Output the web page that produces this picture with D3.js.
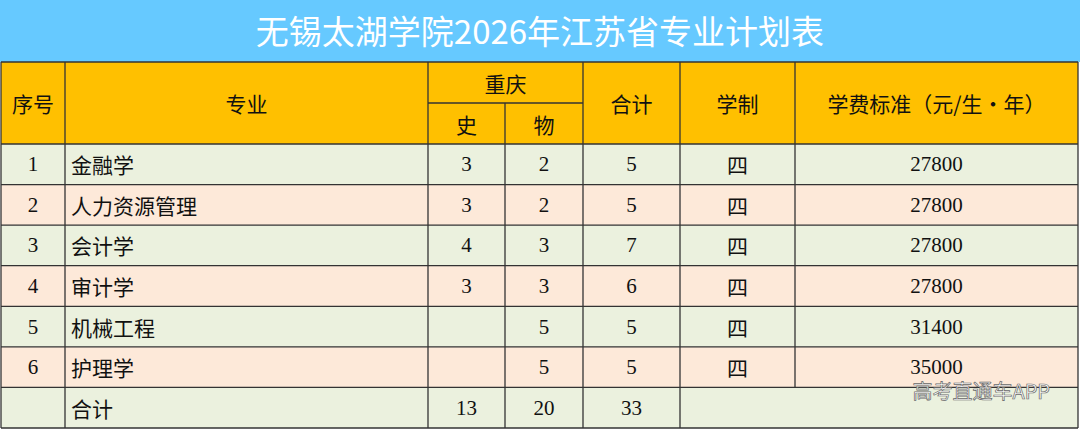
<!DOCTYPE html><html><head><meta charset="utf-8"><script src="https://cdn.jsdelivr.net/npm/d3@7"></script>
<style>body{margin:0;background:#fff}</style></head><body><svg id="c" width="1080" height="430"></svg>
<script>
const title = "无锡太湖学院2026年江苏省专业计划表";
const seq = ["1","2","3","4","5","6"];
const majors = ["金融学","人力资源管理","会计学","审计学","机械工程","护理学"];
const shi = ["3","3","4","3","",""];
const wu = ["2","2","3","3","5","5"];
const total = ["5","5","7","6","5","5"];
const years = ["四","四","四","四","四","四"];
const fees = ["27800","27800","27800","27800","31400","35000"];
const sumRow = ["","合计","13","20","33"];
const colEdges = [1,65,428,505,583,680,795,1078];
const svg = d3.select("#c");
const xc = i => colEdges[i];
const y = d3.scaleLinear().domain([0,7]).range([144,428]);
const font = "'Liberation Serif','Noto Serif CJK SC','Noto Sans CJK SC',serif";
const cjk = "'Noto Sans CJK SC',sans-serif";
svg.append("rect").attr("x",0).attr("y",0).attr("width",1080).attr("height",62).attr("fill","#66c9ff");
svg.append("text").attr("x",540).attr("y",44).attr("text-anchor","middle").attr("fill","#fff").attr("font-family",cjk).attr("font-size",33).text(title);
svg.append("rect").attr("x",1).attr("y",62).attr("width",1077).attr("height",82).attr("fill","#ffc000");
for(let r=0;r<7;r++) svg.append("rect").attr("x",1).attr("y",y(r)).attr("width",1077).attr("height",y(r+1)-y(r)).attr("fill",r%2?"#fde9d9":"#ebf1de");
const L = (x1,y1,x2,y2)=>svg.append("line").attr("x1",x1).attr("y1",y1).attr("x2",x2).attr("y2",y2).attr("stroke","#333").attr("stroke-width",1.3);
L(1,62,1078,62);
L(428,103,583,103);
for(let r=0;r<=7;r++) L(1,y(r),1078,y(r));
colEdges.forEach((cx,i)=>{
  if(i===3){L(cx,103,cx,428);return;}
  if(i===6){L(cx,62,cx,y(6));return;}
  L(cx,62,cx,428);
});
const T=(t,cx,cy,opts={})=>svg.append("text").attr("x",cx).attr("y",cy).attr("text-anchor",opts.a||"middle").attr("dominant-baseline","central").attr("font-family",opts.f||font).attr("font-size",opts.s||21).attr("fill","#111").text(t);
const mid=i=>(xc(i)+xc(i+1))/2;
T("序号",mid(0),103,{f:cjk});
T("专业",mid(1),103,{f:cjk});
T("重庆",(xc(2)+xc(4))/2,83,{f:cjk});
T("史",mid(2),124,{f:cjk});
T("物",mid(3),124,{f:cjk});
T("合计",mid(4),103,{f:cjk});
T("学制",mid(5),103,{f:cjk});
T("学费标准（元/生・年）",mid(6),103,{f:cjk});
const rows = seq.map((s,i)=>[s,majors[i],shi[i],wu[i],total[i],years[i],fees[i]]);
rows.forEach((row,r)=>{
  const cy=(y(r)+y(r+1))/2;
  row.forEach((v,c)=>{
    if(c===1) T(v,xc(1)+6,cy,{a:"start",f:cjk});
    else if(c===5) T(v,mid(c),cy,{f:cjk});
    else T(v,mid(c),cy);
  });
});
const cy6=(y(6)+y(7))/2;
sumRow.forEach((v,c)=>{ if(c===1) T(v,xc(1)+6,cy6,{a:"start",f:cjk}); else T(v,mid(c),cy6); });
svg.append("text").attr("x",1050).attr("y",399).attr("text-anchor","end").attr("font-family",cjk).attr("font-size",20).attr("fill","#fff").attr("stroke","#666").attr("stroke-width",0.7).text("高考直通车APP");
</script></body></html>
